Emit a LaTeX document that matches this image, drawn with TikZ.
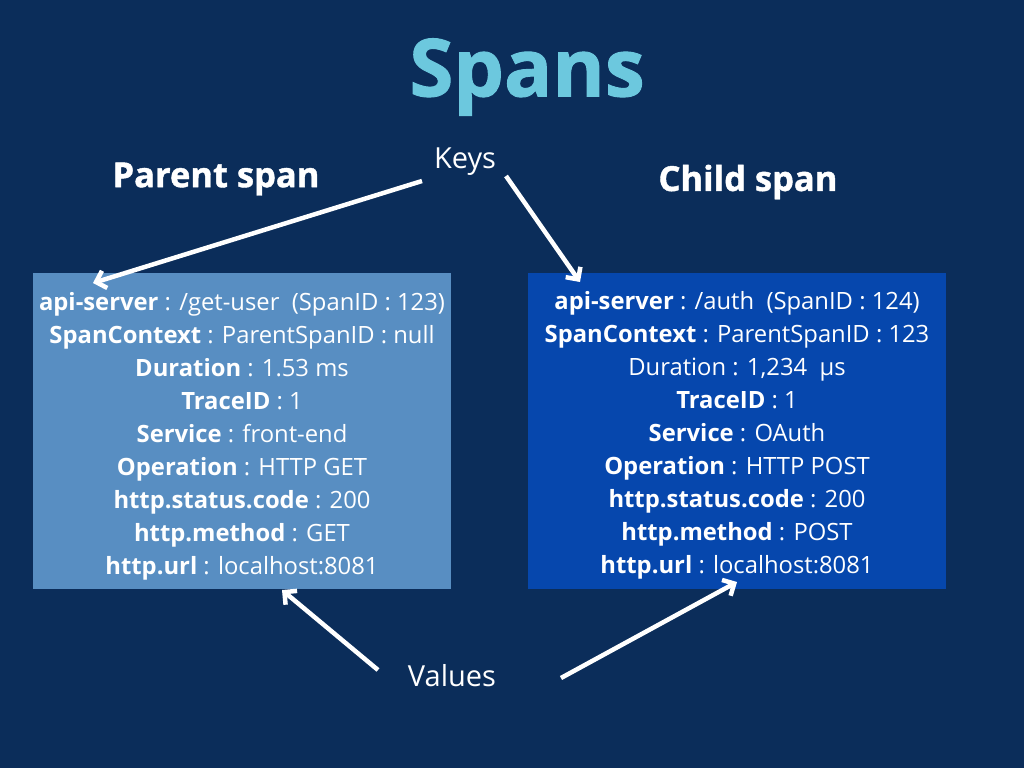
\documentclass[tikz,border=0pt]{standalone}
\usepackage{fontspec}
\setmainfont{Open Sans}
\usetikzlibrary{arrows.meta}
\definecolor{bg}{HTML}{0B2D5A}
\definecolor{titlec}{HTML}{6CC8DE}
\definecolor{lbox}{HTML}{588EC2}
\definecolor{rbox}{HTML}{0647AD}
\newfontfamily\heavy[FakeBold=1.2]{Open Sans Bold}
\begin{document}
\begin{tikzpicture}[x=1pt,y=-1pt,
  boxbg/.style={minimum width=418pt,minimum height=316pt,inner sep=0pt,draw=none},
  spantext/.style={text=white,align=center,inner sep=0pt,font=\fontsize{23.8}{33}\selectfont},
  heading/.style={text=white,font=\heavy\fontsize{34.5}{40}\selectfont},
  lab/.style={text=white,font=\fontsize{29}{34}\selectfont},
  arr/.style={draw=white,line width=4.5pt,-{Straight Barb[length=9pt,width=18pt,line width=4.5pt]}}
]
\useasboundingbox (0,0) rectangle (1024,768);
\fill[bg] (0,0) rectangle (1024,768);
\node[text=titlec,font=\heavy\fontsize{80}{90}\selectfont] (title) at (527,77) {Spans};
\node[heading] (phead) at (216,179) {Parent span};
\node[heading] (chead) at (748,182) {Child span};
\node[lab] (keys) at (465,162) {Keys};
\node[lab] (values) at (452,676) {Values};
\node[boxbg,fill=lbox] (lb) at (242,431) {};
\node[boxbg,fill=rbox] (rb) at (737,431) {};
\node[spantext] (lt) at (242,436) {%
\textbf{api-server} : /get-user\ \ (SpanID : 123)\\
\textbf{SpanContext} : ParentSpanID : null\\
\textbf{Duration} : 1.53 ms\\
\textbf{TraceID} : 1\\
\textbf{Service} : front-end\\
\textbf{Operation} : HTTP GET\\
\textbf{http.status.code} : 200\\
\textbf{http.method} : GET\\
\textbf{http.url} : localhost:8081};
\node[spantext] (rt) at (737,435) {%
\textbf{api-server} : /auth\ \ (SpanID : 124)\\
\textbf{SpanContext} : ParentSpanID : 123\\
Duration : 1,234\ \ µs\\
\textbf{TraceID} : 1\\
\textbf{Service} : OAuth\\
\textbf{Operation} : HTTP POST\\
\textbf{http.status.code} : 200\\
\textbf{http.method} : POST\\
\textbf{http.url} : localhost:8081};
\coordinate (k1s) at (422,181);
\coordinate (k1e) at (93,283);
\coordinate (k2s) at (506,176);
\coordinate (k2e) at (580,282);
\coordinate (v1s) at (378,670);
\coordinate (v1e) at (282,590);
\coordinate (v2s) at (561,678);
\coordinate (v2e) at (737,582);
\draw[arr] (k1s) -- (k1e);
\draw[arr] (k2s) -- (k2e);
\draw[arr] (v1s) -- (v1e);
\draw[arr] (v2s) -- (v2e);
\end{tikzpicture}
\end{document}
